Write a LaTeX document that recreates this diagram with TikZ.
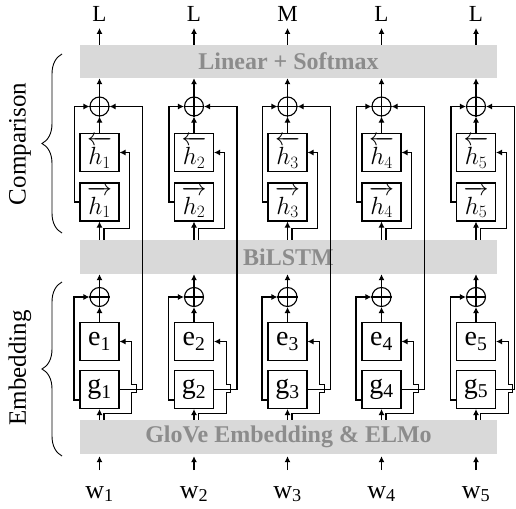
\documentclass[tikz,border=0pt]{standalone}
\usepackage{fontspec}
\setmainfont{Liberation Serif}
\usetikzlibrary{arrows.meta,decorations.pathreplacing}
\definecolor{barfill}{HTML}{D9D9D9}
\definecolor{bartext}{HTML}{8C8C8C}
\newcommand{\hbk}[1]{$\overleftarrow{\rule{0pt}{20pt}h_{#1}}$}
\newcommand{\hfw}[1]{$\overrightarrow{\rule{0pt}{20pt}h_{#1}}$}
\begin{document}
\begin{tikzpicture}[x=1pt,y=-1pt,
  ln/.style={line width=1.1pt},
  arr/.style={ln,-{Latex[length=6pt,width=6pt]}},
  bar/.style={fill=barfill,draw=none,minimum width=417pt,inner sep=0pt,
    text=bartext,font=\fontsize{24}{24}\selectfont\bfseries},
  box/.style={draw,line width=1.1pt,minimum width=39pt,minimum height=38pt,inner sep=0pt},
  pc/.style={draw,circle,line width=1.1pt,minimum size=19pt,inner sep=0pt},
  outlab/.style={anchor=south,inner ysep=6pt,font=\fontsize{23}{23}\selectfont},
  inlab/.style={anchor=north,inner ysep=16pt,text height=12pt,text depth=0pt,font=\fontsize{26}{26}\selectfont},
  sidelab/.style={rotate=90,font=\fontsize{25}{25}\selectfont},
  brc/.style={line width=0.9pt,decorate,decoration={brace,amplitude=20pt}}
]
\useasboundingbox (0,0) rectangle (516,508);
\node[bar,minimum height=33pt] (lin) at (288.5,61.5) {Linear + Softmax};
\node[bar,minimum height=34pt] (bil) at (288.5,257) {BiLSTM};
\node[bar,minimum height=34pt] (glo) at (288.5,437) {GloVe Embedding \& ELMo};
\foreach \i/\cx/\lab/\lx in {1/99.5/L/142.5,2/194/L/237,3/287.5/M/330.5,4/381.5/L/424.5,5/476/L/514.5}{
  \node[outlab] (o\i) at (\cx,28) {\lab};
  \node[pc] (pc\i) at (\cx,106.5) {};
  \node[box,font=\fontsize{25}{25}\selectfont] (hb\i) at (\cx,152.5) {\hbk{\i}};
  \node[box,font=\fontsize{25}{25}\selectfont] (hf\i) at (\cx,202) {\hfw{\i}};
  \node[pc] (pe\i) at (\cx,297) {};
  \node[box,font=\fontsize{28}{28}\selectfont] (e\i) at (\cx,341.5) {e\textsubscript{\i}};
  \node[box,font=\fontsize{28}{28}\selectfont] (g\i) at (\cx,389.5) {g\textsubscript{\i}};
  \node[inlab] (w\i) at (\cx,470) {w\textsubscript{\i}};
  % plus signs
  \draw[ln] (pc\i.north) -- (pc\i.south) (pc\i.west) -- (pc\i.east);
  \draw[ln] (pe\i.north) -- (pe\i.south) (pe\i.west) -- (pe\i.east);
  % comparison part
  \draw[arr] (lin.north -| o\i) -- (o\i.south);
  \draw[arr] (pc\i.north) -- (pc\i.north |- lin.south);
  \draw[arr] (hb\i.north) -- (pc\i.south);
  \draw[arr] (hf\i.south |- bil.north) -- (hf\i.south);
  \draw[arr] ([xshift=4.5pt]hf\i.south |- bil.north) -- ++(0,-11) -| ([xshift=10pt]hb\i.east) -- (hb\i.east);
  \draw[arr] (hf\i.west) -- ++(-5,0) |- (pc\i.west);
  \draw[arr] (g\i.east) -- (\lx,389.5) |- (pc\i.east);
  % embedding part
  \draw[arr] (pe\i.north) -- (pe\i.north |- bil.south);
  \draw[arr] (e\i.north) -- (pe\i.south);
  \draw[arr] (g\i.south |- glo.north) -- (g\i.south);
  \draw[arr] ([xshift=4.5pt]g\i.south |- glo.north) -- ++(0,-6) -- ++(27.7,0) -- ++(0,-21) -- ++(4.6,0) -- ++(0,-8) -- ++(-4.6,0) |- (e\i.east);
  \draw[arr] ([yshift=-10.5pt]g\i.west) -- ++(-5.5,0) |- (pe\i.west);
  \draw[arr,shorten >=2pt] (w\i.north) -- (w\i.north |- glo.south);
}
\coordinate (cb) at (62,233);
\coordinate (ct) at (62,54);
\coordinate (eb) at (62,456);
\coordinate (et) at (62,282);
\draw[brc] (cb) -- (ct);
\draw[brc] (eb) -- (et);
\node[sidelab] (cmp) at (20,144) {Comparison};
\node[sidelab] (emb) at (20,368) {Embedding};
\end{tikzpicture}
\end{document}
